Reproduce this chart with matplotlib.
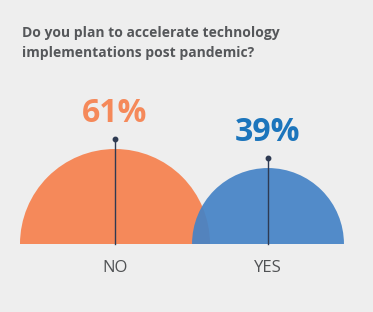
import numpy as np
import matplotlib
matplotlib.use('Agg')
import matplotlib.pyplot as plt
from matplotlib.patches import Wedge

# data
categories = ['NO', 'YES']
values = [61, 39]
labels = ['61%', '39%']
fill_colors = ['#F5895A', '#4583C6']
text_colors = ['#F5895A', '#1C75BC']

title = 'Do you plan to accelerate technology\nimplementations post pandemic?'

fig = plt.figure(figsize=(3.73, 3.12), dpi=100)
fig.patch.set_facecolor('#EEEEEE')
ax = fig.add_axes([0, 0, 1, 1])
ax.set_xlim(0, 373)
ax.set_ylim(0, 312)
ax.axis('off')

base = 312 - 244
centers = [115, 268]
k = 95 / np.sqrt(values[0])  # radius ~ sqrt(value), area proportional

for i, (cat, v) in enumerate(zip(categories, values)):
    r = k * np.sqrt(v)
    cx = centers[i]
    alpha = 1.0 if i == 0 else 0.92
    ax.add_patch(Wedge((cx, base), r, 0, 180, facecolor=fill_colors[i],
                       edgecolor='none', alpha=alpha, zorder=2 + i))
    # pin
    top = base + r + 10
    ax.plot([cx, cx], [base, top], color='#2E3A52', lw=1.0, zorder=5)
    ax.plot(cx, top, 'o', color='#2E3A52', ms=3.2, zorder=6)
    ax.text(cx, top + 26, labels[i], ha='center', va='center',
            fontsize=23, fontweight='bold', color=text_colors[i],
            family='Open Sans')
    ax.text(cx, 312 - 268, cat, ha='center', va='center',
            fontsize=12, color='#505254', family='Open Sans')

ax.text(22, 312 - 26, title, ha='left', va='top', fontsize=10,
        fontweight='bold', color='#55575A', family='Open Sans',
        linespacing=1.5)

plt.savefig('out.png', dpi=100, facecolor=fig.get_facecolor())
